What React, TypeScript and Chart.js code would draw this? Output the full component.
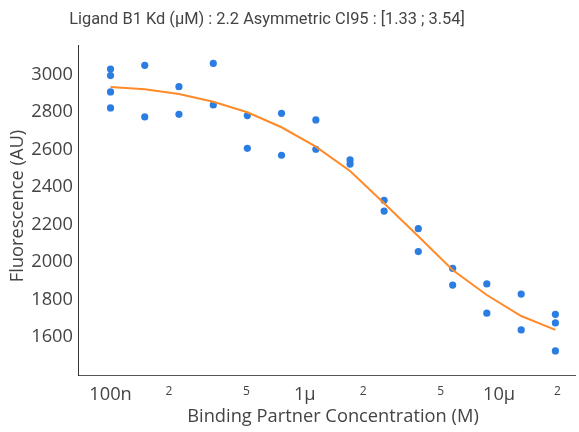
import React, { useEffect, useRef } from "react";
import { Chart, registerables } from "chart.js";

Chart.register(...registerables);

// Binding partner concentrations (M), 1.5x dilution series
const concentrations = [
  1.0e-7, 1.5e-7, 2.25e-7, 3.38e-7, 5.06e-7, 7.59e-7, 1.14e-6,
  1.71e-6, 2.56e-6, 3.84e-6, 5.77e-6, 8.65e-6, 1.3e-5, 1.95e-5,
];

// Measured fluorescence replicates (AU)
const replicateA = [3028, 3048, 2934, 3058, 2780, 2792, 2757, 2544, 2329, 2178, 1967, 1884, 1830, 1722];
const replicateB = [2821, 2773, 2787, 2837, 2606, 2569, 2601, 2522, 2272, 2056, 1878, 1728, 1639, 1527];
const replicateC = [2993, null, null, null, null, null, null, null, null, null, null, null, null, 1676];
const replicateD = [2906, null, null, null, null, null, null, null, null, null, null, null, null, null];

// Fitted binding curve evaluated at each concentration
const fitValues = [2932, 2920, 2895, 2854, 2798, 2718, 2615, 2485, 2313, 2138, 1958, 1825, 1713, 1639];

const xTickValues = [1e-7, 2e-7, 5e-7, 1e-6, 2e-6, 5e-6, 1e-5, 2e-5];
const xTickLabels = ["100n", "2", "5", "1µ", "2", "5", "10µ", "2"];
const xTickMajor = [true, false, false, true, false, false, true, false];
const yTickValues = [1600, 1800, 2000, 2200, 2400, 2600, 2800, 3000];

const titleText = "Ligand B1 Kd (µM) : 2.2 Asymmetric CI95 : [1.33 ; 3.54]";
const xTitleText = "Binding Partner Concentration (M)";
const yTitleText = "Fluorescence (AU)";

const WIDTH = 579;
const HEIGHT = 432;
const TEXT = "#444";
const DOT = "#2b7de2";
const CURVE = "#ff8a28";
const FONT = '"Open Sans", sans-serif';

const textPlugin = {
  id: "textLabels",
  afterDraw(chart: any) {
    const { ctx } = chart;
    ctx.save();
    ctx.fillStyle = TEXT;
    ctx.textAlign = "center";
    ctx.textBaseline = "middle";
    ctx.font = '16.4px Roboto, "Noto Sans", sans-serif';
    ctx.fillText(titleText, 267, 20);
    ctx.font = `18.3px ${FONT}`;
    ctx.fillText(xTitleText, 333, 417);
    ctx.translate(18, 206);
    ctx.rotate(-Math.PI / 2);
    ctx.fillText(yTitleText, 0, 0);
    ctx.restore();
  },
};

function pointsFrom(values: (number | null)[]) {
  const pts: { x: number; y: number }[] = [];
  values.forEach((v, i) => {
    if (v !== null) pts.push({ x: concentrations[i], y: v });
  });
  return pts;
}

export default function App() {
  const canvasRef = useRef<HTMLCanvasElement | null>(null);

  useEffect(() => {
    document.body.style.margin = "0";
    const canvas = canvasRef.current;
    if (!canvas) return;

    const measured = [
      ...pointsFrom(replicateA),
      ...pointsFrom(replicateB),
      ...pointsFrom(replicateC),
      ...pointsFrom(replicateD),
    ];
    const curve = fitValues.map((v, i) => ({ x: concentrations[i], y: v }));

    const chart = new Chart(canvas, {
      type: "scatter",
      data: {
        datasets: [
          {
            type: "line",
            label: "fit",
            data: curve,
            borderColor: CURVE,
            borderWidth: 2,
            pointRadius: 0,
            tension: 0,
            fill: false,
          },
          {
            type: "scatter",
            label: "measured",
            data: measured,
            backgroundColor: DOT,
            borderWidth: 0,
            pointRadius: 3.6,
          },
        ],
      },
      options: {
        responsive: false,
        animation: false,
        layout: { padding: { top: 45, left: 0, right: 0, bottom: 0 } },
        plugins: {
          legend: { display: false },
          title: { display: false },
          tooltip: { enabled: false },
        },
        scales: {
          x: {
            type: "logarithmic",
            min: 6.8e-8,
            max: 2.46e-5,
            grid: { display: false, drawTicks: false },
            border: { display: true, color: "#555", width: 1 },
            afterBuildTicks: (scale: any) => {
              scale.ticks = xTickValues.map((v) => ({ value: v }));
            },
            afterFit: (scale: any) => {
              scale.height = 57;
            },
            ticks: {
              autoSkip: false,
              maxRotation: 0,
              padding: 9,
              color: TEXT,
              font: (ctx: any) => ({ family: FONT, size: xTickMajor[ctx.index] ? 18.3 : 12 }),
              callback: (_v: any, i: number) => xTickLabels[i],
            },
          },
          y: {
            type: "linear",
            min: 1399,
            max: 3156,
            grid: { display: false, drawTicks: false },
            border: { display: true, color: "#333", width: 1 },
            afterBuildTicks: (scale: any) => {
              scale.ticks = yTickValues.map((v) => ({ value: v }));
            },
            afterFit: (scale: any) => {
              scale.width = 78;
            },
            ticks: {
              padding: 5,
              color: TEXT,
              font: { family: FONT, size: 18.3 },
              callback: (v: any) => String(v),
            },
          },
        },
      },
      plugins: [textPlugin],
    });

    return () => chart.destroy();
  }, []);

  return <canvas ref={canvasRef} width={WIDTH} height={HEIGHT} style={{ display: "block" }} />;
}
